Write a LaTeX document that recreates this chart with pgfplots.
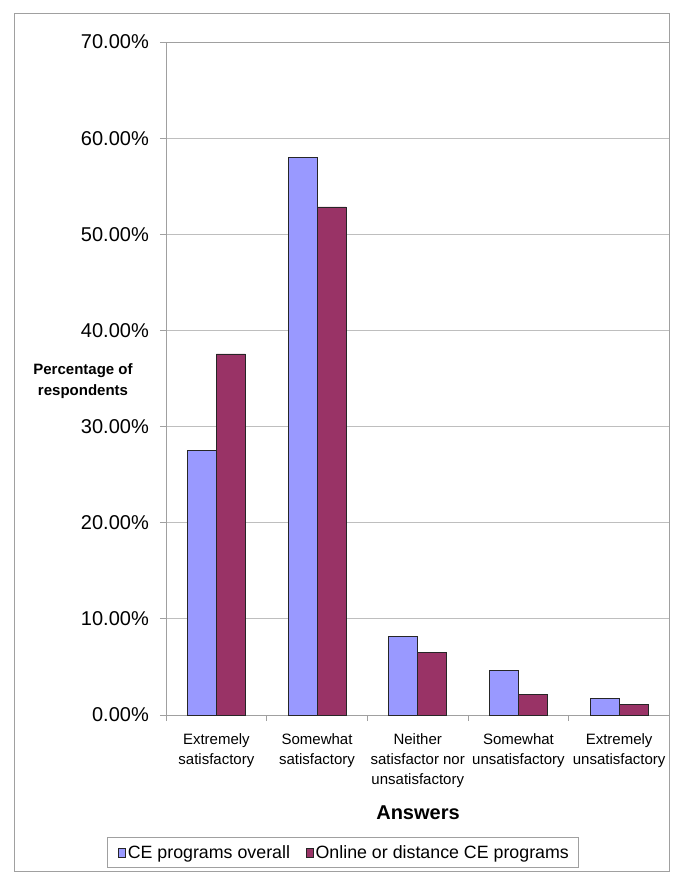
\documentclass[border=0pt]{standalone}
\usepackage{pgfplots}
\pgfplotsset{compat=1.18}
\usepackage{fontspec}
\setmainfont{Liberation Sans}

\definecolor{cebar}{HTML}{9999FF}
\definecolor{onbar}{HTML}{993366}
\definecolor{gridc}{HTML}{BEBEBE}
\definecolor{axc}{HTML}{A0A0A0}

\begin{document}
\begin{tikzpicture}
    \begin{axis}
        [
            at={(0bp,0bp)}, anchor=south west,
            scale only axis,
            width=503.5bp, height=673bp,
            xmin=-0.5, xmax=4.5,
            ymin=0, ymax=70,
            ybar=0pt, bar width=29bp,
            axis line style={axc},
            tick align=outside,
            major tick length=6bp,
            tick style={axc, line width=0.8bp},
            ytick pos=left, xtick pos=bottom,
            ytick={0,10,...,70},
            yticklabel={\pgfmathprintnumber[fixed,fixed zerofill,precision=2,assume math mode=true]{\tick}\%},
            y tick label style={anchor=east, inner sep=0pt, xshift=-11bp,
                font=\fontsize{20bp}{24bp}\selectfont},
            ymajorgrids,
            grid style={gridc, line width=0.8bp},
            xtick={-0.5,0.5,...,4.5},
            xticklabels={},
            extra x ticks={0,1,2,3,4},
            extra x tick labels={Extremely\\satisfactory, Somewhat\\satisfactory, Neither\\satisfactor nor\\unsatisfactory, Somewhat\\unsatisfactory, Extremely\\unsatisfactory},
            extra x tick style={major tick length=0pt, grid=none},
            x tick label style={anchor=north, inner sep=0pt, yshift=-18bp, align=center,
                font=\fontsize{15bp}{20bp}\selectfont},
            legend columns=2,
            legend style={at={(-0.1172,-0.1813)}, anchor=north west, draw=axc,
                font=\fontsize{17.8bp}{20bp}\selectfont,
                inner ysep=7bp, inner xsep=8bp,
                nodes={inner sep=1bp},
                /tikz/every odd column/.append style={column sep=1bp},
                /tikz/every even column/.append style={column sep=12bp}},
            legend image code/.code={\path (0bp,0bp); \draw[#1, draw=black!85, line width=0.6bp] (3bp,-4.5bp) rectangle (10bp,4.5bp);},
        ]
        \addplot [fill=cebar, draw=black!85, line width=0.6bp] coordinates {
            (0,27.56) (1,58.00) (2,8.18) (3,4.60) (4,1.70)
        };
        \addlegendentry{CE programs overall}
        \addplot [fill=onbar, draw=black!85, line width=0.6bp] coordinates {
            (0,37.56) (1,52.84) (2,6.48) (3,2.16) (4,1.08)
        };
        \addlegendentry{Online or distance CE programs}
    \end{axis}
    \node[font=\bfseries\fontsize{15bp}{21bp}\selectfont, align=center] at (-83bp,334bp) {Percentage of\\respondents};
    \node[font=\bfseries\fontsize{20bp}{24bp}\selectfont] at (252bp,-98bp) {Answers};
    \draw[axc, line width=0.8bp] (-152bp,702bp) rectangle (503.5bp,-156.7bp);
    \pgfresetboundingbox
    \useasboundingbox (-166bp,-172bp) rectangle (519bp,715bp);
\end{tikzpicture}
\end{document}
